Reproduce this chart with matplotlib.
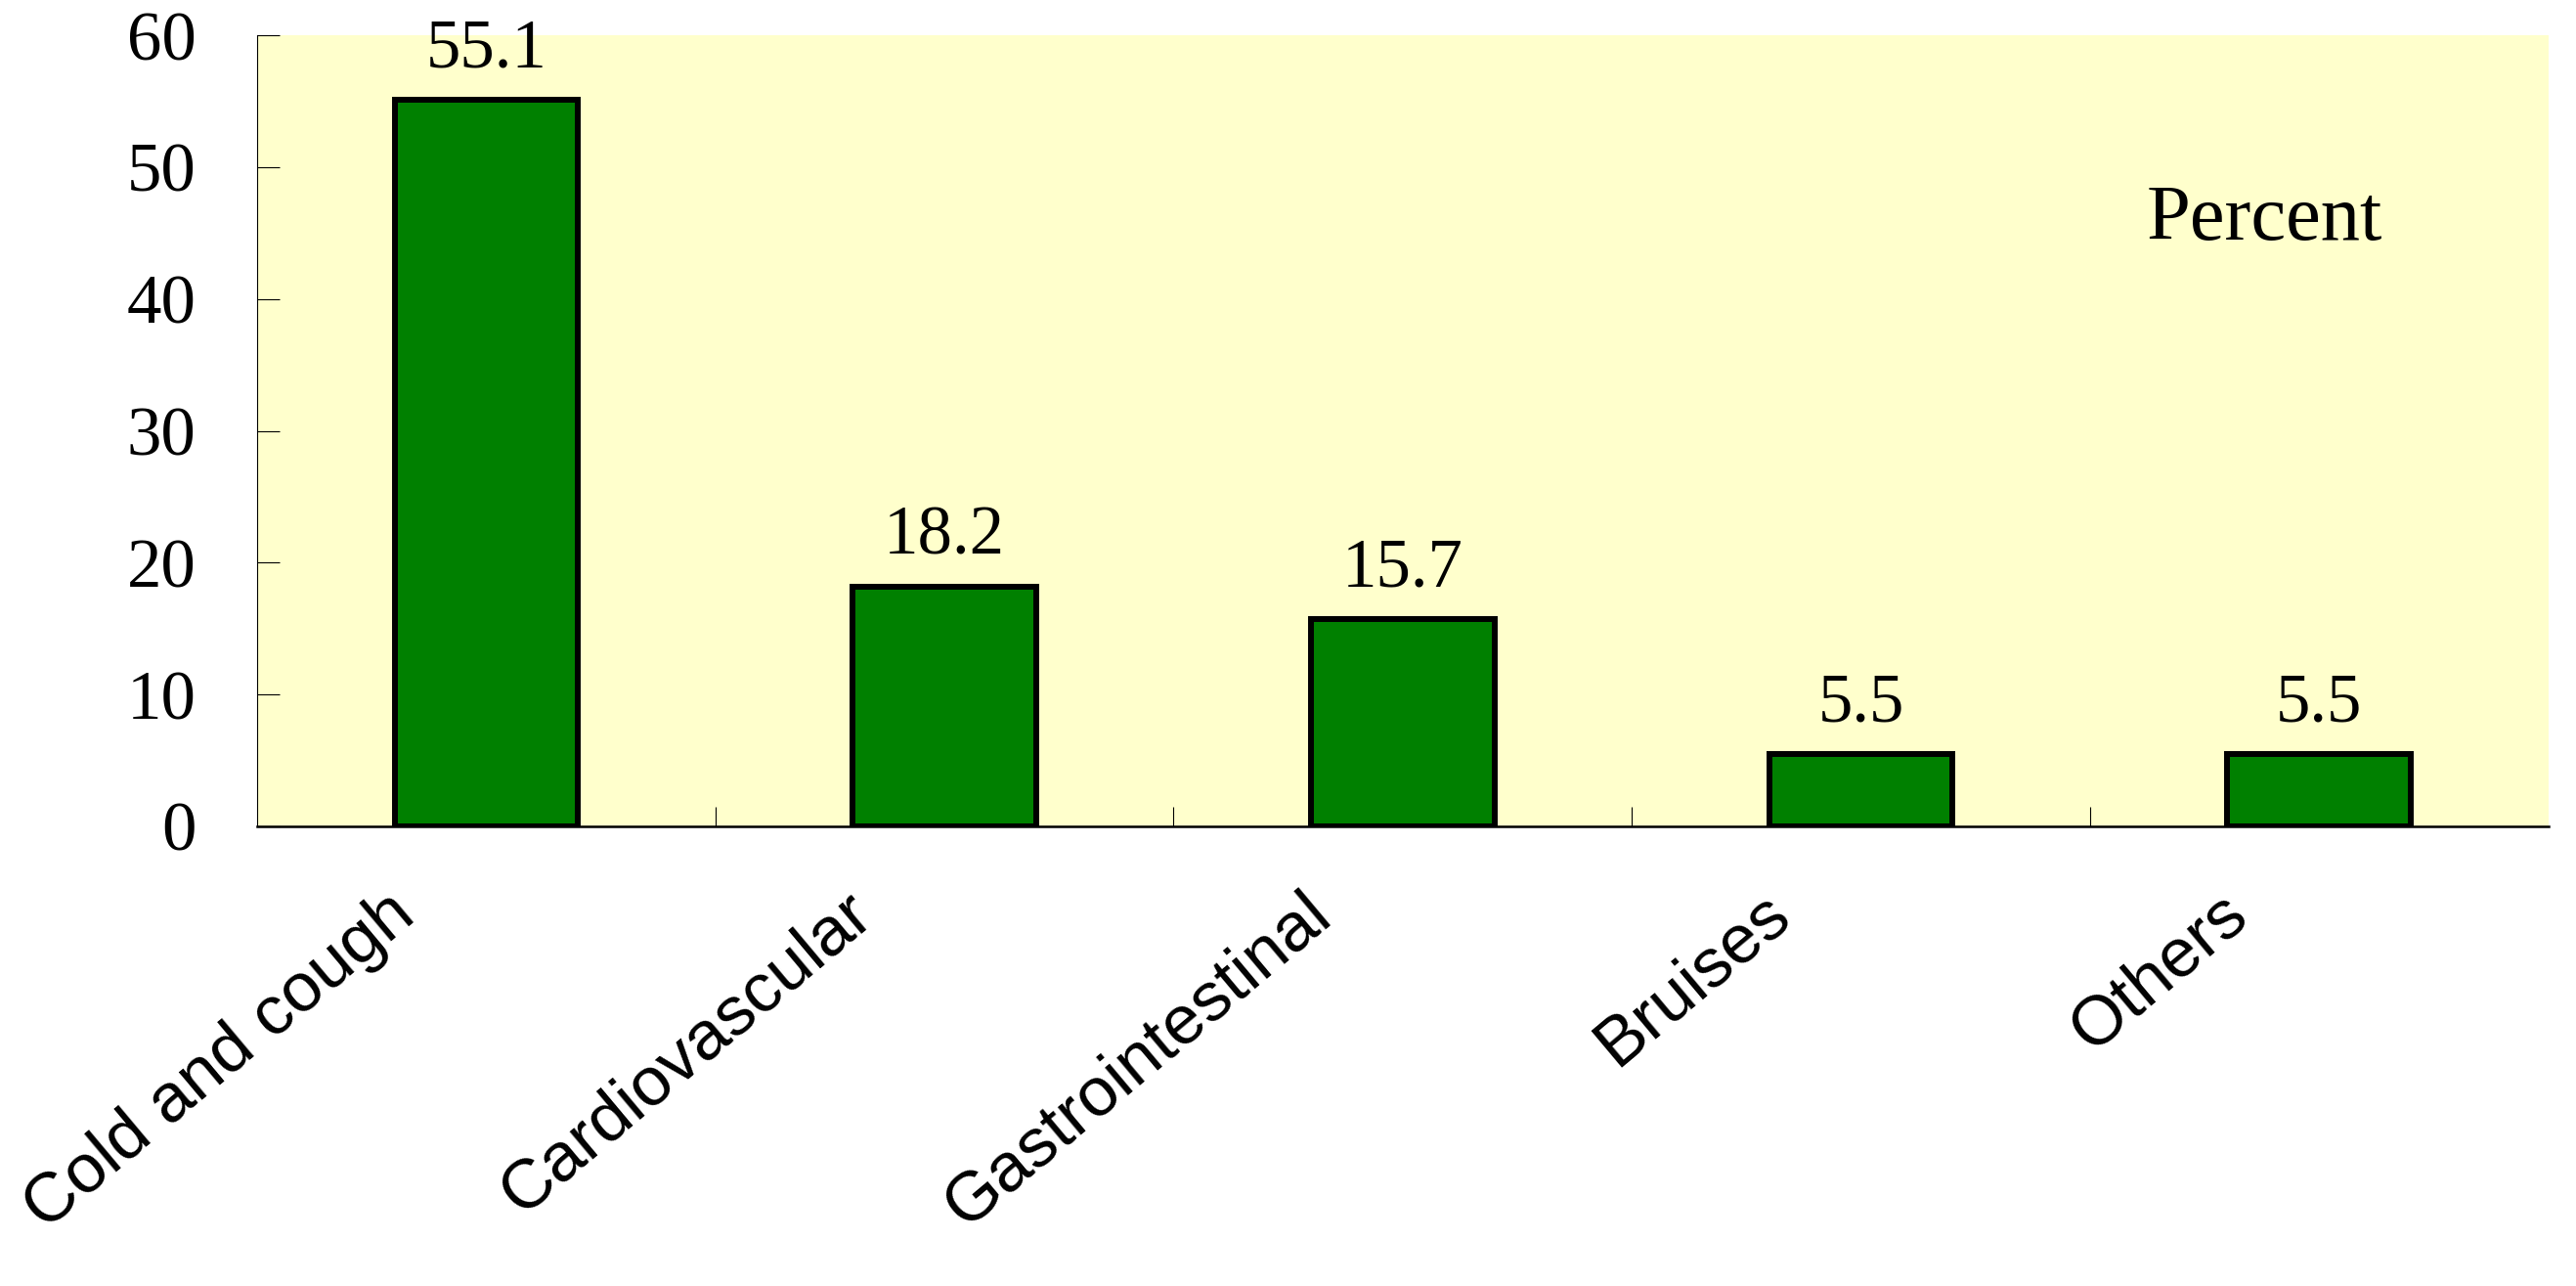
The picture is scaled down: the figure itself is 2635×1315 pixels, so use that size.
import matplotlib
matplotlib.use('Agg')
import matplotlib.pyplot as plt
import matplotlib.transforms as mtransforms

categories = ['Cold and cough', 'Cardiovascular', 'Gastrointestinal', 'Bruises', 'Others']
percent = [55.1, 18.2, 15.7, 5.5, 5.5]
yticks = [0, 10, 20, 30, 40, 50, 60]

SERIF = ['Liberation Serif', 'DejaVu Serif']
SANS = ['Liberation Sans', 'DejaVu Sans']

fig = plt.figure(figsize=(26.35, 13.15), dpi=100)
ax = fig.add_axes([0.0998, 1 - 845 / 1315, 0.9892 - 0.0998, (845 - 36) / 1315])
ax.set_facecolor('#FFFFCC')

x = list(range(len(categories)))
ax.bar(x, percent, width=0.4, color='#008000', edgecolor='black', linewidth=4.3, zorder=3)

ax.set_xlim(-0.5, len(categories) - 0.5)
ax.set_ylim(0, 60)

# spines
for side in ('top', 'right'):
    ax.spines[side].set_visible(False)
ax.spines['left'].set_linewidth(0.8)
ax.spines['bottom'].set_linewidth(1.8)
ax.spines['bottom'].set_zorder(4)

# y axis
ax.set_yticks(yticks)
ax.set_yticklabels([str(v) for v in yticks], fontfamily=SERIF, fontsize=51)
ax.tick_params(axis='y', direction='in', length=16.5, width=0.8, pad=45)

# x axis: separators between categories, labels drawn manually
ax.set_xticks([i + 0.5 for i in x[:-1]])
ax.set_xticklabels([])
ax.tick_params(axis='x', direction='in', length=14.5, width=0.8)

offset = mtransforms.ScaledTranslation(-103 / 100, -56 / 100, fig.dpi_scale_trans)
trans = ax.get_xaxis_transform() + offset
for i, name in enumerate(categories):
    ax.text(i, 0, name, transform=trans, rotation=40, rotation_mode='anchor',
            ha='right', va='top', fontfamily=SANS, fontsize=51)

# value labels
for i, v in enumerate(percent):
    ax.annotate(f'{v}', xy=(i, v), xytext=(0, 24), textcoords='offset points',
                ha='center', va='baseline', fontfamily=SERIF, fontsize=51, zorder=5)

ax.text(3.88, 44.5, 'Percent', ha='center', va='baseline', fontfamily=SERIF, fontsize=58)

fig.savefig('out.png', dpi=100)
